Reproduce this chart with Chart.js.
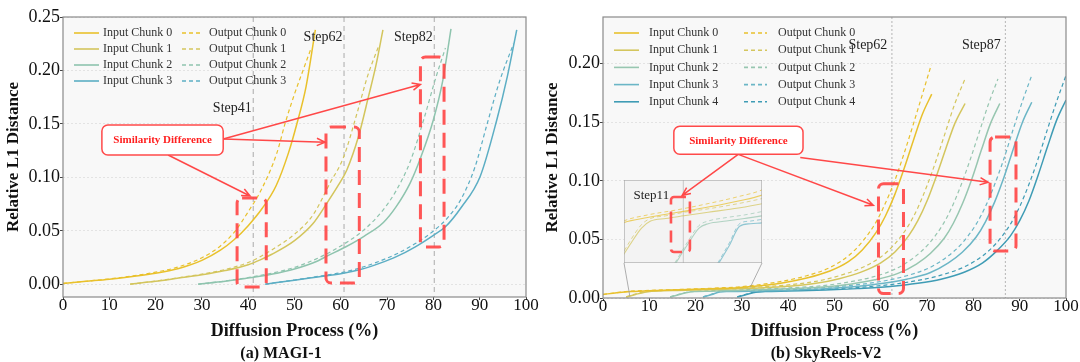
<!DOCTYPE html>
<html>
<head>
<meta charset="utf-8">
<script src="https://cdn.jsdelivr.net/npm/chart.js@4.4.1/dist/chart.umd.min.js"></script>
<style>
  body { margin: 0; background: #fff; }
  #page { position: relative; width: 1080px; height: 362px; overflow: hidden; font-family: 'Liberation Serif', serif; }
  .box { position: absolute; top: 0; width: 540px; height: 362px; }
  canvas { display: block; }
  #insetBox { position: absolute; left: 624px; top: 180px; width: 138px; height: 83px; }
  .cap { position: absolute; top: 344px; width: 240px; text-align: center; font-weight: bold; font-size: 16px; line-height: 18px; color: #111; }
</style>
</head>
<body>
<div id="page">
  <div class="box" style="left:0"><canvas id="magiChart" width="540" height="362"></canvas></div>
  <div class="box" style="left:540px"><canvas id="skyChart" width="540" height="362"></canvas></div>
  <div id="insetBox"><canvas id="insetChart" width="138" height="83"></canvas></div>
  <div class="cap" style="left:161px">(a) MAGI-1</div>
  <div class="cap" style="left:706px">(b) SkyReels-V2</div>
</div>
<script>
const SERIF = "'Liberation Serif', 'Times New Roman', serif";
Chart.defaults.font.family = SERIF;

// axis ticks
const xTicks = [0, 10, 20, 30, 40, 50, 60, 70, 80, 90, 100];
const magiYTicks = [0, 0.05, 0.10, 0.15, 0.20, 0.25];
const skyYTicks = [0, 0.05, 0.10, 0.15, 0.20];

// (a) MAGI-1 : [diffusion %, relative L1 distance]
const magiIn0 = [[0,0.0010],[5,0.0030],[10,0.0050],[15,0.0075],[20,0.0105],[25,0.0150],[30,0.0225],[34,0.0320],[37,0.0420],[40,0.0550],[43,0.0710],[46,0.0920],[48.7,0.1230],[50.5,0.1500],[52.5,0.1850],[54.5,0.2380]];
const magiOut0 = [[0,0.0010],[5,0.0030],[10,0.0052],[15,0.0080],[20,0.0115],[25,0.0165],[30,0.0250],[34,0.0360],[37,0.0490],[40,0.0680],[43,0.0900],[46.2,0.1230],[48,0.1510],[50,0.1780],[52,0.2020],[53.6,0.2210]];
const magiIn1 = [[14.5,0.0003],[20,0.0030],[25,0.0060],[30,0.0090],[35,0.0130],[40,0.0185],[42.6,0.0230],[45,0.0280],[50,0.0410],[54,0.0570],[57,0.0760],[59.5,0.0930],[61.3,0.1070],[63.8,0.1380],[66,0.1760],[67.6,0.2050],[69.1,0.2380]];
const magiOut1 = [[14.5,0.0003],[20,0.0032],[25,0.0063],[30,0.0097],[35,0.0140],[40,0.0205],[42.6,0.0260],[45,0.0320],[50,0.0470],[54,0.0650],[57.7,0.0950],[60.6,0.1190],[63.5,0.1600],[65.8,0.1950],[68.1,0.2220]];
const magiIn2 = [[29.2,0.0003],[35,0.0030],[40,0.0060],[45,0.0095],[50,0.0145],[55,0.0220],[57,0.0265],[61,0.0350],[65,0.0450],[69.2,0.0580],[72,0.0730],[75,0.0950],[77.2,0.1180],[80,0.1540],[82,0.1900],[83.8,0.2390]];
const magiOut2 = [[29.2,0.0003],[35,0.0032],[40,0.0065],[45,0.0105],[50,0.0160],[55,0.0245],[60,0.0360],[65,0.0510],[69.2,0.0700],[72,0.0880],[75,0.1150],[77.9,0.1540],[80.5,0.1930],[82.6,0.2210]];
const magiIn3 = [[43.7,0.0003],[50,0.0040],[55,0.0070],[60,0.0100],[64.2,0.0140],[68.5,0.0200],[72,0.0260],[76,0.0350],[80,0.0460],[82.6,0.0540],[86,0.0720],[90.1,0.1010],[93.7,0.1540],[96,0.1950],[98,0.2380]];
const magiOut3 = [[43.7,0.0003],[50,0.0042],[55,0.0075],[60,0.0110],[64.2,0.0155],[68.5,0.0220],[72,0.0285],[76,0.0380],[80,0.0500],[83,0.0620],[86,0.0800],[89,0.1100],[91.6,0.1500],[94.3,0.1900],[97.3,0.2250]];

// (b) SkyReels-V2
const skyIn0 = [[0,0.0030],[3,0.0045],[6,0.0056],[10,0.0062],[15,0.0068],[20,0.0074],[25,0.0081],[29,0.0088],[34,0.0105],[39,0.0130],[44,0.0170],[49,0.0230],[53,0.0310],[56,0.0410],[59,0.0560],[61,0.0700],[63,0.0880],[65,0.1100],[67,0.1340],[69,0.1570],[71,0.1740]];
const skyOut0 = [[0,0.0030],[3,0.0046],[6,0.0058],[10,0.0065],[15,0.0071],[20,0.0078],[25,0.0086],[29,0.0094],[34,0.0115],[39,0.0145],[44,0.0190],[49,0.0260],[53,0.0360],[56,0.0480],[59,0.0650],[61,0.0810],[63,0.1000],[65,0.1230],[67,0.1480],[69,0.1740],[70.9,0.1990]];
const skyIn1 = [[5,0.0008],[7,0.0030],[9,0.0050],[10.5,0.0058],[13,0.0061],[16,0.0064],[20,0.0068],[25,0.0073],[29,0.0078],[34,0.0086],[40,0.0100],[46,0.0125],[51,0.0165],[56,0.0225],[60,0.0300],[63,0.0390],[66,0.0530],[68,0.0660],[70,0.0830],[72,0.1040],[74,0.1270],[76,0.1490],[78.2,0.1660]];
const skyOut1 = [[5,0.0010],[7,0.0034],[9,0.0054],[10.5,0.0061],[13,0.0064],[16,0.0068],[20,0.0072],[25,0.0078],[29,0.0084],[34,0.0094],[40,0.0112],[46,0.0142],[51,0.0190],[56,0.0260],[60,0.0350],[63,0.0460],[66,0.0620],[68,0.0770],[70,0.0960],[72,0.1180],[74,0.1420],[76,0.1660],[78.2,0.1870]];
const skyIn2 = [[14.5,0.0008],[16.5,0.0030],[18.5,0.0050],[20,0.0055],[23,0.0058],[26,0.0061],[29,0.0064],[34,0.0070],[40,0.0078],[47.7,0.0093],[53.7,0.0120],[58.7,0.0155],[63.7,0.0210],[67.7,0.0290],[70.7,0.0380],[73.7,0.0510],[75.7,0.0640],[77.7,0.0810],[79.7,0.1020],[81.7,0.1260],[83.7,0.1490],[85.7,0.1660]];
const skyOut2 = [[14.5,0.0010],[16.5,0.0033],[18.5,0.0053],[20,0.0058],[23,0.0062],[26,0.0065],[29,0.0069],[34,0.0076],[40,0.0086],[47.3,0.0105],[53.3,0.0138],[58.3,0.0180],[63.3,0.0250],[67.3,0.0350],[70.3,0.0460],[73.3,0.0620],[75.3,0.0770],[77.3,0.0960],[79.3,0.1180],[81.3,0.1420],[83.3,0.1660],[85.3,0.1870]];
const skyIn3 = [[21.6,0.0008],[23.5,0.0030],[25.2,0.0052],[27,0.0055],[29,0.0056],[34,0.0060],[40,0.0066],[48,0.0080],[54.6,0.0098],[60.6,0.0125],[65.6,0.0160],[70.6,0.0215],[74.6,0.0300],[77.6,0.0390],[80.6,0.0520],[82.6,0.0650],[84.6,0.0820],[86.6,0.1030],[88.6,0.1270],[90.6,0.1500],[92.6,0.1670]];
const skyOut3 = [[21.6,0.0010],[23.5,0.0033],[25.2,0.0055],[27,0.0058],[29,0.0060],[34,0.0065],[40,0.0072],[48,0.0090],[54.6,0.0112],[60.6,0.0145],[65.6,0.0190],[70.6,0.0260],[74.6,0.0360],[77.6,0.0470],[80.6,0.0630],[82.6,0.0780],[84.6,0.0970],[86.6,0.1190],[88.6,0.1440],[90.6,0.1680],[92.6,0.1900]];
const skyIn4 = [[29,0.0008],[31,0.0030],[33,0.0050],[35,0.0055],[40,0.0060],[48,0.0068],[55,0.0080],[62,0.0098],[68,0.0125],[73,0.0160],[78,0.0220],[82,0.0300],[85,0.0400],[88,0.0530],[90,0.0660],[92,0.0830],[94,0.1050],[96,0.1290],[98,0.1520],[100,0.1690]];
const skyOut4 = [[29,0.0010],[31,0.0033],[33,0.0053],[35,0.0058],[40,0.0064],[48,0.0074],[55,0.0090],[62,0.0114],[68,0.0150],[73,0.0195],[78,0.0265],[82,0.0360],[85,0.0470],[88,0.0630],[90,0.0780],[92,0.0970],[94,0.1190],[96,0.1440],[98,0.1680],[100,0.1900]];

const magiInputs = [magiIn0, magiIn1, magiIn2, magiIn3];
const magiOutputs = [magiOut0, magiOut1, magiOut2, magiOut3];
const skyInputs = [skyIn0, skyIn1, skyIn2, skyIn3, skyIn4];
const skyOutputs = [skyOut0, skyOut1, skyOut2, skyOut3, skyOut4];

// step markers
const magiSteps = [41.1, 60.7, 80.2];
const magiStepNames = ['Step41', 'Step62', 'Step82'];
const magiStepLabelY = [0.165, 0.231, 0.231];
const skySteps = [62.4, 86.9];
const skyStepNames = ['Step62', 'Step87'];
const skyStepLabelY = [0.2156, 0.2156];
const insetSteps = [15.9];
const insetStepNames = ['Step11'];
const insetStepLabelY = [0.0087];

// highlight boxes [x0, x1, y0, y1] and arrows [x0, y0, x1, y1] in data units
const magiBoxes = [[37.6, 43.9, -0.0023, 0.0808], [56.8, 64.0, 0.0014, 0.1472], [77.2, 82.3, 0.035, 0.2126]];
const magiCallout = [8.4, 34.6, 0.121, 0.149];
const magiArrows = [[34.6, 0.136, 77.2, 0.187], [34.6, 0.136, 56.6, 0.133], [22.7, 0.121, 40.4, 0.0827]];
const skyBoxes = [[59.5, 64.9, 0.0038, 0.0976], [83.6, 89.2, 0.0401, 0.1374]];
const skyCallout = [15.3, 43.2, 0.1226, 0.1465];
const skyArrows = [[29.2, 0.1226, 17.1, 0.0876], [29.2, 0.1226, 58.4, 0.0791], [42.6, 0.1200, 83.2, 0.0987]];
const insetBoxes = [[13.86, 16.99, 0.00226, 0.00855]];
const insetXRange = [6.1, 28.9];
const insetYRange = [0.001, 0.0105];
const insetSource = [[5.8, 0.0015], [31.8, 0.009]];

const magiColors = ['#e9c12b', '#d3c55c', '#8ec4ae', '#5caec4'];
const skyColors = ['#e8c02c', '#d4c65e', '#97c6b0', '#6bb6c6', '#3f9cb5'];

function series(label, pts, color, dashed, width) {
  return {
    label: label,
    data: pts.map(p => ({ x: p[0], y: p[1] })),
    borderColor: color,
    borderWidth: width,
    borderDash: dashed ? [4, 3] : [],
    pointRadius: 0,
    fill: false,
    cubicInterpolationMode: 'monotone'
  };
}

function buildSets(inputs, outputs, colors, wSolid, wDash, alpha) {
  const sets = [];
  inputs.forEach((d, i) => sets.push(series('Input Chunk ' + i, d, colors[i] + alpha, false, wSolid)));
  outputs.forEach((d, i) => sets.push(series('Output Chunk ' + i, d, colors[i] + alpha, true, wDash)));
  return sets;
}

function rrect(ctx, x, y, w, h, r) {
  ctx.beginPath();
  ctx.moveTo(x + r, y);
  ctx.arcTo(x + w, y, x + w, y + h, r);
  ctx.arcTo(x + w, y + h, x, y + h, r);
  ctx.arcTo(x, y + h, x, y, r);
  ctx.arcTo(x, y, x + w, y, r);
  ctx.closePath();
}

function arrow(ctx, x1, y1, x2, y2) {
  const ang = Math.atan2(y2 - y1, x2 - x1), h = 9, s = 0.42;
  ctx.beginPath();
  ctx.moveTo(x1, y1); ctx.lineTo(x2, y2);
  ctx.moveTo(x2 - h * Math.cos(ang - s), y2 - h * Math.sin(ang - s));
  ctx.lineTo(x2, y2);
  ctx.lineTo(x2 - h * Math.cos(ang + s), y2 - h * Math.sin(ang + s));
  ctx.stroke();
}

function drawBoxes(chart, boxes, width, dash, radius) {
  const { ctx, scales: { x, y } } = chart;
  boxes.forEach(b => {
    const x1 = x.getPixelForValue(b[0]), x2 = x.getPixelForValue(b[1]);
    const y1 = y.getPixelForValue(b[3]), y2 = y.getPixelForValue(b[2]);
    ctx.save();
    ctx.strokeStyle = 'rgba(255,72,72,0.92)';
    ctx.lineWidth = width;
    ctx.setLineDash(dash);
    rrect(ctx, x1, y1, x2 - x1, y2 - y1, radius);
    ctx.stroke();
    ctx.restore();
  });
}

function drawStepLabels(chart, steps, names, ys, offset, size) {
  const { ctx, scales: { x, y } } = chart;
  ctx.save();
  ctx.font = size + 'px ' + SERIF;
  ctx.fillStyle = '#222';
  ctx.textAlign = 'center';
  ctx.textBaseline = 'middle';
  steps.forEach((s, i) => ctx.fillText(names[i], x.getPixelForValue(s) + offset, y.getPixelForValue(ys[i])));
  ctx.restore();
}

function drawLegend(chart, L) {
  const { ctx, chartArea: a } = chart;
  ctx.save();
  ctx.font = '12px ' + SERIF;
  ctx.fillStyle = '#333';
  ctx.textBaseline = 'middle';
  chart.data.datasets.forEach((d, i) => {
    const col = Math.floor(i / L.rows), row = i % L.rows;
    const yy = a.top + L.top + row * L.gap;
    const c = L.cols[col];
    ctx.strokeStyle = d.borderColor;
    ctx.lineWidth = 1.6;
    ctx.setLineDash(d.borderDash);
    ctx.beginPath(); ctx.moveTo(a.left + c[0], yy); ctx.lineTo(a.left + c[1], yy); ctx.stroke();
    ctx.setLineDash([]);
    ctx.fillText(d.label, a.left + c[2], yy);
  });
  ctx.restore();
}

function decor(cfg) {
  return {
    id: 'decor',
    beforeDraw(chart) {
      const { ctx, chartArea: a } = chart;
      ctx.save();
      ctx.fillStyle = cfg.bg;
      ctx.fillRect(a.left, a.top, a.right - a.left, a.bottom - a.top);
      ctx.restore();
    },
    beforeDatasetsDraw(chart) {
      const { ctx, chartArea: a, scales: { x } } = chart;
      cfg.steps.forEach(s => {
        const px = x.getPixelForValue(s);
        ctx.save();
        ctx.strokeStyle = cfg.stepColor;
        ctx.lineWidth = cfg.stepWidth;
        ctx.setLineDash(cfg.stepDash);
        ctx.beginPath(); ctx.moveTo(px, a.top); ctx.lineTo(px, a.bottom); ctx.stroke();
        ctx.restore();
      });
    },
    afterDraw(chart) {
      const { ctx, chartArea: a, scales: { x, y } } = chart;
      ctx.save();
      ctx.strokeStyle = cfg.frame;
      ctx.lineWidth = 1.2;
      ctx.strokeRect(a.left, a.top, a.right - a.left, a.bottom - a.top);
      ctx.restore();
      if (cfg.legend) drawLegend(chart, cfg.legend);
      drawStepLabels(chart, cfg.steps, cfg.stepNames, cfg.stepLabelY, cfg.stepOffset, cfg.stepSize);
      drawBoxes(chart, cfg.boxes, cfg.boxWidth, cfg.boxDash, cfg.boxRadius);
      if (cfg.arrows) {
        ctx.save();
        ctx.strokeStyle = '#ff4848';
        ctx.lineWidth = 1.5;
        cfg.arrows.forEach(r => arrow(ctx, x.getPixelForValue(r[0]), y.getPixelForValue(r[1]), x.getPixelForValue(r[2]), y.getPixelForValue(r[3])));
        ctx.restore();
      }
      if (cfg.callout) {
        const c = cfg.callout;
        const x1 = x.getPixelForValue(c[0]), x2 = x.getPixelForValue(c[1]);
        const y1 = y.getPixelForValue(c[3]), y2 = y.getPixelForValue(c[2]);
        ctx.save();
        rrect(ctx, x1, y1, x2 - x1, y2 - y1, 6);
        ctx.fillStyle = '#fff';
        ctx.fill();
        ctx.strokeStyle = '#ff4a4a';
        ctx.lineWidth = 1.5;
        ctx.stroke();
        ctx.font = 'bold 11px ' + SERIF;
        ctx.fillStyle = '#ff1f1f';
        ctx.textAlign = 'center';
        ctx.textBaseline = 'middle';
        ctx.fillText('Similarity Difference', (x1 + x2) / 2, (y1 + y2) / 2 + 0.5);
        ctx.restore();
      }
      if (cfg.inset) {
        const r = cfg.inset;
        const p0 = [x.getPixelForValue(insetSource[0][0]), y.getPixelForValue(insetSource[0][1])];
        const p1 = [x.getPixelForValue(insetSource[1][0]), y.getPixelForValue(insetSource[1][1])];
        ctx.save();
        ctx.strokeStyle = '#9a9a9a';
        ctx.lineWidth = 0.8;
        ctx.beginPath();
        ctx.moveTo(r.left, r.top + r.height); ctx.lineTo(p0[0], p0[1]);
        ctx.moveTo(r.left + r.width, r.top + r.height); ctx.lineTo(p1[0], p1[1]);
        ctx.stroke();
        ctx.restore();
      }
    }
  };
}

function mainOptions(yMin, yMax, yTicks, xHeight, titlePadTop) {
  return {
    responsive: false,
    animation: false,
    layout: { padding: { left: 0, right: 14, top: 17, bottom: 0 } },
    plugins: { legend: { display: false }, tooltip: { enabled: false } },
    scales: {
      x: {
        type: 'linear', min: 0, max: 100,
        afterBuildTicks: s => { s.ticks = xTicks.map(v => ({ value: v })); },
        afterFit: s => { s.height = xHeight; },
        ticks: { autoSkip: false, maxRotation: 0, padding: -5, color: '#111', font: { size: 17 } },
        grid: { color: 'rgba(0,0,0,0)', tickColor: '#444', tickLength: 3 },
        border: { display: false },
        title: { display: true, text: 'Diffusion Process (%)', color: '#111', font: { size: 18, weight: 'bold' }, padding: { top: 0, bottom: 20 } }
      },
      y: {
        type: 'linear', min: yMin, max: yMax,
        afterBuildTicks: s => { s.ticks = yTicks.map(v => ({ value: v })); },
        afterFit: s => { s.width = 63; },
        ticks: { padding: 0, color: '#111', font: { size: 18 }, callback: v => v.toFixed(2) },
        grid: { color: '#e3e3e3', tickColor: '#444', tickLength: 3 },
        border: { display: false, dash: [2, 2] },
        title: { display: true, text: 'Relative L1 Distance', color: '#111', font: { size: 17, weight: 'bold' }, padding: { top: titlePadTop, bottom: 0 } }
      }
    }
  };
}

const magiChart = new Chart(document.getElementById('magiChart'), {
  type: 'line',
  data: { datasets: buildSets(magiInputs, magiOutputs, magiColors, 1.5, 1.2, '') },
  options: mainOptions(-0.0117, 0.25, magiYTicks, 65, 3),
  plugins: [decor({
    bg: '#f8f8f8', frame: '#8a8a8a',
    steps: magiSteps, stepNames: magiStepNames, stepLabelY: magiStepLabelY,
    stepColor: '#bdbdbd', stepWidth: 1.3, stepDash: [5, 4], stepOffset: -21, stepSize: 14,
    boxes: magiBoxes, boxWidth: 3, boxDash: [15, 8], boxRadius: 5,
    callout: magiCallout, arrows: magiArrows,
    legend: { rows: 4, top: 16, gap: 16, cols: [[11, 36, 40], [119, 140, 146]] }
  })]
});

const skyChart = new Chart(document.getElementById('skyChart'), {
  type: 'line',
  data: { datasets: buildSets(skyInputs, skyOutputs, skyColors, 1.5, 1.2, '') },
  options: mainOptions(0, 0.2398, skyYTicks, 64, 2),
  plugins: [decor({
    bg: '#f8f8f8', frame: '#8a8a8a',
    steps: skySteps, stepNames: skyStepNames, stepLabelY: skyStepLabelY,
    stepColor: '#b5b5b5', stepWidth: 1, stepDash: [2, 2], stepOffset: -24, stepSize: 14,
    boxes: skyBoxes, boxWidth: 3, boxDash: [15, 8], boxRadius: 5,
    callout: skyCallout, arrows: skyArrows,
    legend: { rows: 5, top: 16, gap: 17.2, cols: [[11, 36, 46], [141, 164, 175]] },
    inset: { left: 84, top: 180, width: 138, height: 83 }
  })]
});

// zoomed inset of the early diffusion steps
const insetDecor = decor({
  bg: '#f3f3f3', frame: '#a5a5a5',
  steps: insetSteps, stepNames: insetStepNames, stepLabelY: insetStepLabelY,
  stepColor: '#bcbcbc', stepWidth: 0.8, stepDash: [], stepOffset: -32, stepSize: 13,
  boxes: insetBoxes, boxWidth: 2.6, boxDash: [12, 7], boxRadius: 3
});
const insetArrow = {
  id: 'insetArrow',
  afterDraw(chart) {
    const r = skyArrows[0], sx = skyChart.scales.x, sy = skyChart.scales.y;
    const dx = 540 - 624, dy = -180;
    const ctx = chart.ctx;
    ctx.save();
    ctx.strokeStyle = '#ff4848';
    ctx.lineWidth = 1.5;
    arrow(ctx, sx.getPixelForValue(r[0]) + dx, sy.getPixelForValue(r[1]) + dy, sx.getPixelForValue(r[2]) + dx, sy.getPixelForValue(r[3]) + dy);
    ctx.restore();
  }
};
new Chart(document.getElementById('insetChart'), {
  type: 'line',
  data: { datasets: buildSets(skyInputs, skyOutputs, skyColors, 1.1, 0.9, 'bb') },
  options: {
    responsive: false,
    animation: false,
    layout: { padding: 0 },
    plugins: { legend: { display: false }, tooltip: { enabled: false } },
    scales: {
      x: { type: 'linear', min: insetXRange[0], max: insetXRange[1], display: false },
      y: { type: 'linear', min: insetYRange[0], max: insetYRange[1], display: false }
    }
  },
  plugins: [insetDecor, insetArrow]
});
</script>
</body>
</html>
